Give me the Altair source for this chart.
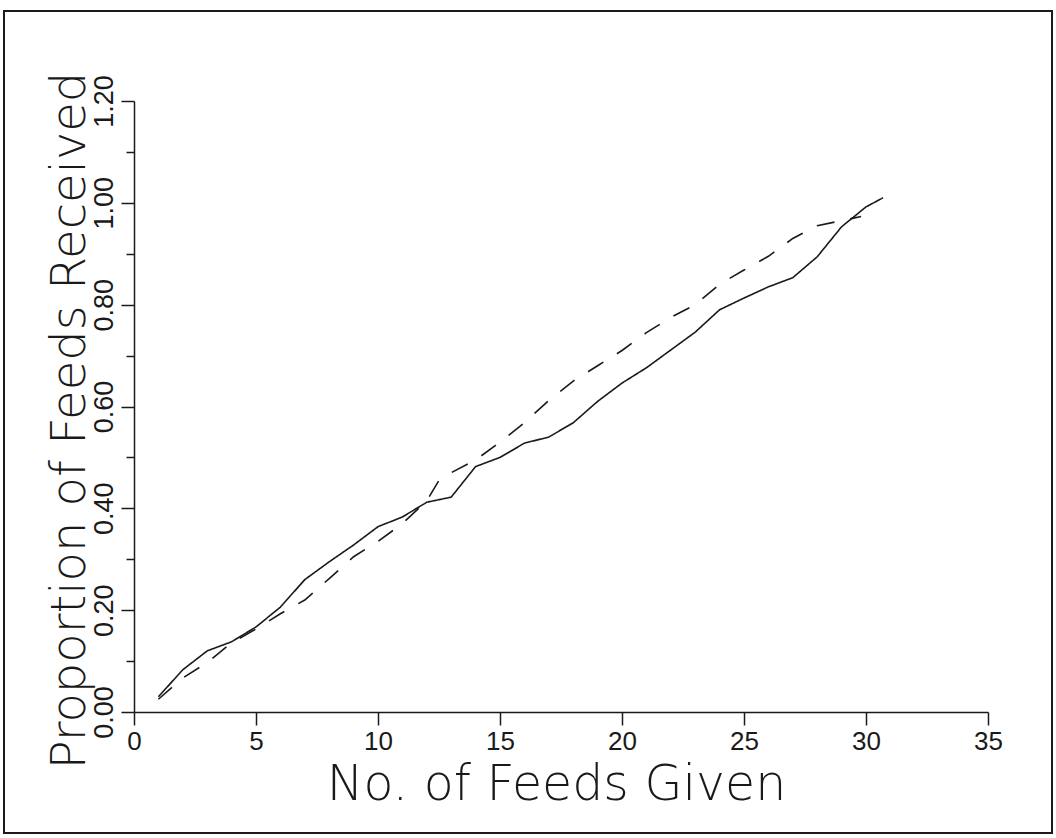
import altair as alt
import pandas as pd

# Cumulative proportion of feeds received against number of feeds given
feeds_given = [1, 2, 3, 4, 5, 6, 7, 8, 9, 10, 11, 12, 13, 14, 15, 16, 17, 18,
               19, 20, 21, 22, 23, 24, 25, 26, 27, 28, 29, 30, 30.7]
observed = [0.03, 0.083, 0.12, 0.138, 0.167, 0.206, 0.26, 0.295, 0.328, 0.364,
            0.383, 0.412, 0.422, 0.482, 0.50, 0.528, 0.54, 0.568, 0.61, 0.646,
            0.676, 0.711, 0.746, 0.79, 0.813, 0.835, 0.853, 0.894, 0.953, 0.992,
            1.01]

expected_x = [1, 2, 3, 4, 5, 6, 7, 8, 9, 10, 11, 12, 12.5, 13, 14, 15, 16, 17,
              18, 19, 20, 21, 22, 23, 24, 25, 26, 27, 28, 29, 29.8]
expected = [0.025, 0.067, 0.097, 0.136, 0.163, 0.193, 0.22, 0.262, 0.305, 0.335,
            0.37, 0.415, 0.455, 0.47, 0.495, 0.53, 0.568, 0.612, 0.65, 0.68,
            0.71, 0.745, 0.775, 0.80, 0.84, 0.868, 0.895, 0.93, 0.955, 0.965,
            0.973]

x_ticks = [0, 5, 10, 15, 20, 25, 30, 35]
y_ticks = [0.0, 0.1, 0.2, 0.3, 0.4, 0.5, 0.6, 0.7, 0.8, 0.9, 1.0, 1.1, 1.2]

df = pd.concat([
    pd.DataFrame({"given": feeds_given, "received": observed, "series": "Observed"}),
    pd.DataFrame({"given": expected_x, "received": expected, "series": "Expected"}),
])

TITLE_FONT = "DejaVu Sans"
LABEL_FONT = "Liberation Sans"
INK = "#1a1a1a"

x_axis = alt.Axis(
    values=x_ticks, format="d", grid=False,
    domainColor=INK, domainWidth=1.5, tickColor=INK, tickWidth=1.5, tickSize=13,
    labelFont=LABEL_FONT, labelFontSize=26, labelColor=INK,
    labelBaseline="alphabetic", labelPadding=24, labelFlush=False,
    title="No. of Feeds Given", titleFont=TITLE_FONT, titleFontSize=49,
    titleFontWeight=200, titleColor=INK, titleAnchor="start",
    titleAlign="center", titleBaseline="alphabetic", titleX=422, titleY=87,
)

y_axis = alt.Axis(
    values=y_ticks, format=".2f", grid=False,
    labelExpr="round(datum.value * 10) % 2 == 0 ? datum.label : ''",
    domainColor=INK, domainWidth=1.5, tickColor=INK, tickWidth=1.5,
    tickSize=alt.condition("round(datum.value * 10) % 2 == 0", alt.value(13), alt.value(8)),
    labelFont=LABEL_FONT, labelFontSize=27, labelColor=INK,
    labelAngle=270, labelAlign="center", labelBaseline="alphabetic",
    labelPadding=9, labelFlush=False,
    title="Proportion of Feeds Received", titleFont=TITLE_FONT, titleFontSize=48,
    titleFontWeight=200, titleColor=INK, titleAngle=270,
    titleAlign="center", titleBaseline="alphabetic", titleX=-50, titleY=319,
)

lines = alt.Chart(df).mark_line(strokeWidth=1.6, color=INK).encode(
    x=alt.X("given:Q", scale=alt.Scale(domain=[0, 35], nice=False), axis=x_axis),
    y=alt.Y("received:Q", scale=alt.Scale(domain=[0, 1.2], nice=False), axis=y_axis),
    strokeDash=alt.StrokeDash(
        "series:N",
        scale=alt.Scale(domain=["Observed", "Expected"], range=[[1, 0], [18, 16]]),
        legend=None,
    ),
    detail="series:N",
)

# Frame drawn around the whole figure
frame = alt.Chart(pd.DataFrame({"k": [0]})).mark_rect(
    filled=False, stroke=INK, strokeWidth=2
).encode(
    x=alt.value(-130), x2=alt.value(918),
    y=alt.value(-90), y2=alt.value(732),
)

chart = alt.layer(lines, frame).properties(
    width=854, height=611,
    autosize=alt.AutoSizeParams(type="none"),
    padding={"left": 134, "top": 101, "right": 68, "bottom": 126},
    background="white",
).configure_view(stroke=None)

chart.save("out.html", embed_options={"renderer": "svg", "actions": False})
